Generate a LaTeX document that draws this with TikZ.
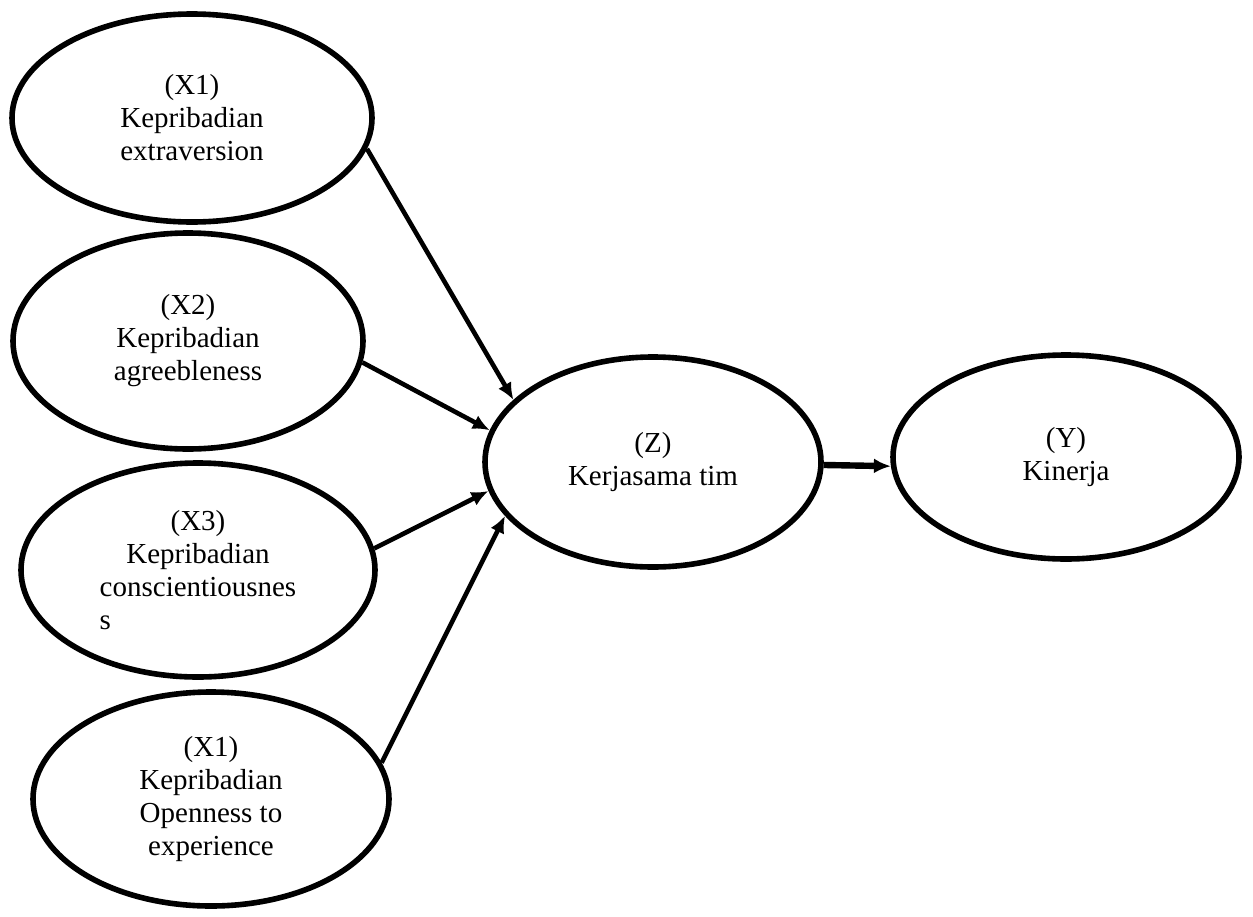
\documentclass[tikz,border=0pt]{standalone}
\usepackage{fontspec}
\setmainfont{Liberation Serif}
\usetikzlibrary{shapes.geometric,arrows.meta}
\begin{document}
\begin{tikzpicture}[x=0.5pt,y=-0.5pt,
    var/.style={ellipse, draw, line width=2.8pt, inner sep=0pt, align=center,
      font=\fontsize{14.5}{16.5}\selectfont}]
      \useasboundingbox (0,0) rectangle (1253,916);
      \draw
        (192,118) node[var, minimum width=180pt, minimum height=104pt] (x1){(X1)\\Kepribadian\\extraversion}
        (188,341) node[var, minimum width=175pt, minimum height=108pt] (x2){(X2)\\Kepribadian\\agreebleness}
        (198,570) node[var, minimum width=177pt, minimum height=107pt] (x3){(X3)\\Kepribadian\\conscientiousnes\\\rlap{s}\phantom{conscientiousnes}}
        (211,799) node[var, minimum width=178pt, minimum height=107pt] (x4){(X1)\\Kepribadian\\Openness to\\experience}
        (653,462) node[var, minimum width=168pt, minimum height=105pt] (z){(Z)\\Kerjasama tim}
        (1066,457) node[var, minimum width=173pt, minimum height=102pt] (y){(Y)\\Kinerja};
      \begin{scope}[-{Latex[length=8.5pt,width=7.5pt]}, line width=2.3pt]
        \draw (x1.-10.7) to (z.156.8);
        \draw (x2.-7) to (z.169.1);
        \draw (x3.7.5) to (z.-170.6);
        \draw (x4.12.2) to (z.-160);
        \draw[line width=3.2pt] (z.-1) to (y.-177);
      \end{scope}
    \end{tikzpicture}
\end{document}
